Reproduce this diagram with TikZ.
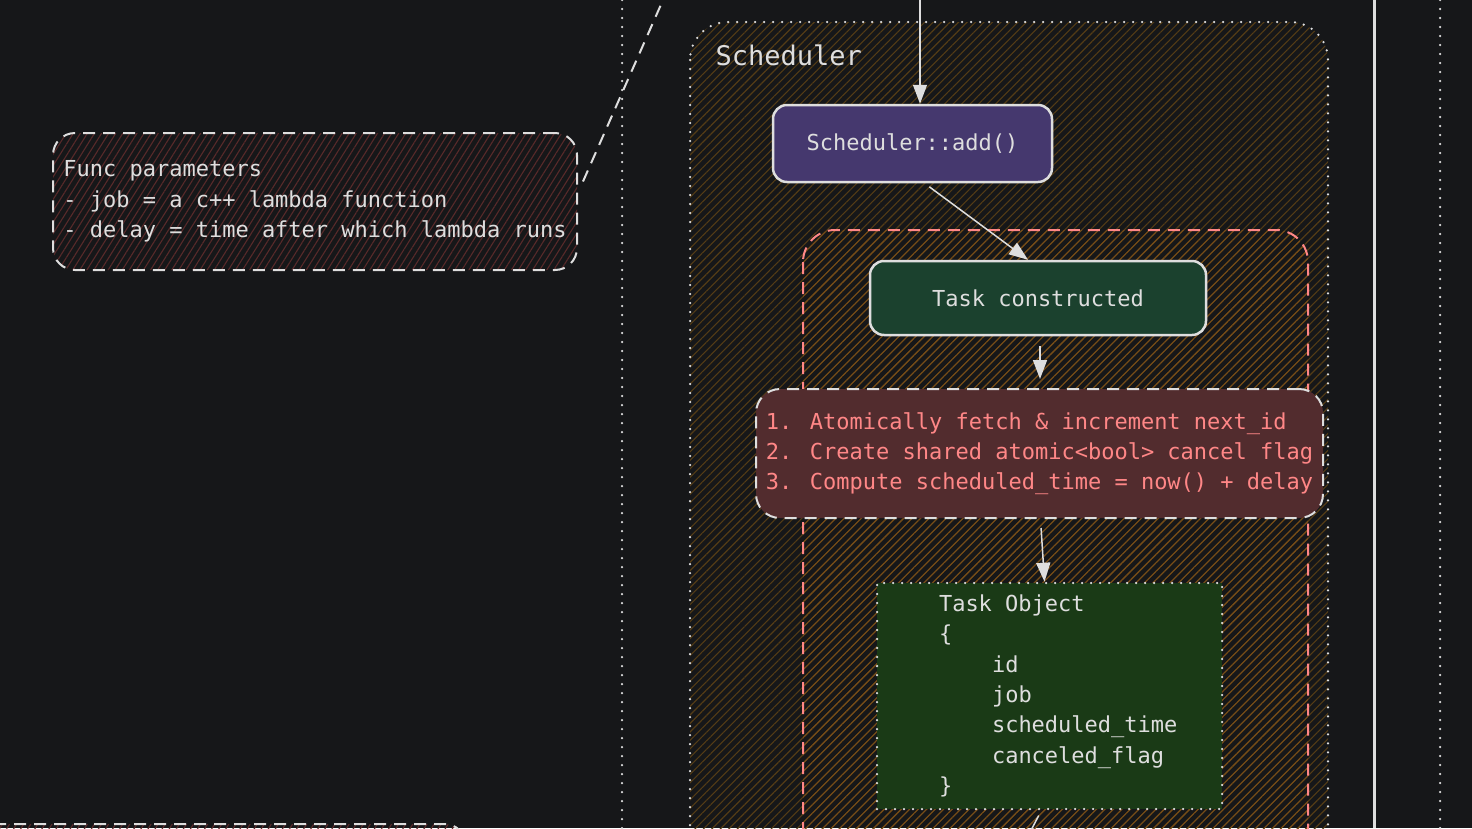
\documentclass[tikz,border=0pt]{standalone}
\usepackage{fontspec}
\newfontfamily\codefont{DejaVu Sans Mono}
\usetikzlibrary{arrows.meta,patterns.meta}

\definecolor{bg}{RGB}{22,23,25}
\definecolor{ink}{RGB}{222,222,222}
\definecolor{salmon}{RGB}{255,135,135}
\definecolor{addfill}{RGB}{69,56,110}
\definecolor{taskfill}{RGB}{27,65,46}
\definecolor{stepfill}{RGB}{82,44,46}
\definecolor{objfill}{RGB}{26,58,22}
\definecolor{hatchred}{RGB}{88,42,42}
\definecolor{hatchbrown}{RGB}{84,60,22}
\definecolor{hatchorange}{RGB}{118,76,24}

\tikzset{
  every node/.style={font=\codefont\fontsize{22}{30.3}\selectfont,text=ink},
  dotline/.style={draw=ink,line width=2.5pt,line cap=round,dash pattern=on 0pt off 9pt},
  dashline/.style={draw=ink,line width=2pt,dash pattern=on 12pt off 8pt},
  hatch/.style 2 args={pattern={Lines[angle=#2,distance=6pt,line width=1.1pt]},pattern color=#1},
  box/.style={draw=ink,line width=2.5pt,rounded corners=14pt,minimum height=77pt,align=center},
  pfeil/.style={draw=ink,line width=1.5pt,-{Triangle[length=19pt,width=14pt]}}
}

\begin{document}
\begin{tikzpicture}[x=1pt,y=-1pt]
\useasboundingbox (0,0) rectangle (1472,828);
\clip (0,0) rectangle (1472,828);
\fill[bg] (0,0) rectangle (1472,828);

% Linien
\draw[dotline] (622,0) -- (622,828);
\draw[draw=ink,line width=3pt] (1374,0) -- (1374,828);
\draw[dotline] (1440,0) -- (1440,828);

% Container
\draw[dashline,hatch={hatchred}{58},rounded corners=20pt] (-30,824) rectangle (465,900);
\fill[hatch={hatchbrown}{45},rounded corners=38pt] (690,22) rectangle (1328,900);
\draw[dotline,rounded corners=38pt] (690,22) rectangle (1328,900);
\draw[dashline,draw=salmon,hatch={hatchorange}{45},rounded corners=32pt] (803,230) rectangle (1308,900);
\node[anchor=west,font=\codefont\fontsize{27}{32}\selectfont] (titel) at (712,55) {Scheduler};

% Knoten
\node[dashline,hatch={hatchred}{58},rounded corners=22pt,align=left,inner xsep=7pt,
  minimum width=524pt,minimum height=137pt] (params) at (315,201.5)
  {Func parameters\\- job = a c++ lambda function\\- delay = time after which lambda runs};
\node[box,fill=addfill,minimum width=279pt] (add) at (912.5,143.5) {Scheduler::add()};
\node[box,fill=taskfill,minimum width=336pt,minimum height=74pt] (task) at (1038,298) {Task constructed};
\node[dashline,fill=stepfill,text=salmon,rounded corners=24pt,align=left,inner xsep=7pt,
  minimum width=567pt,minimum height=129pt] (steps) at (1039.5,453.5)
  {1. Atomically fetch \& increment next\_id\\2. Create shared atomic<bool> cancel flag\\3. Compute scheduled\_time = now() + delay};
\node[dotline,fill=objfill,align=left,text width=221pt,inner xsep=62pt,
  minimum height=226pt] (obj) at (1049.5,696)
  {\mbox{Task\hspace{13.2pt}Object}\\\{\\\hspace*{53pt}\mbox{id}\\\hspace*{53pt}\mbox{job}\\
   \hspace*{53pt}\mbox{scheduled\_time}\\\hspace*{53pt}\mbox{canceled\_flag}\\\}};

% Verbindungen
\coordinate (einstieg) at (920,0);
\coordinate (ecke) at (663,0);
\coordinate (unten) at (1028,836);
\draw[dashline] ([shift={(5,-20)}]params.east) -- (ecke);
\draw[pfeil] (einstieg) -- (einstieg |- add.north);
\draw[pfeil,shorten <=6pt] ([xshift=12pt]add.south) -- ([xshift=-10pt]task.north);
\draw[pfeil,shorten <=10pt,shorten >=9pt] ([xshift=2pt]task.south) -- ([xshift=2pt]task.south |- steps.north);
\draw[pfeil,shorten <=9pt] ([xshift=1pt]steps.south) -- ([xshift=-5pt]obj.north);
\draw[draw=ink,line width=1.5pt,shorten <=6pt] ([xshift=-8pt]obj.south) -- (unten);
\end{tikzpicture}
\end{document}
